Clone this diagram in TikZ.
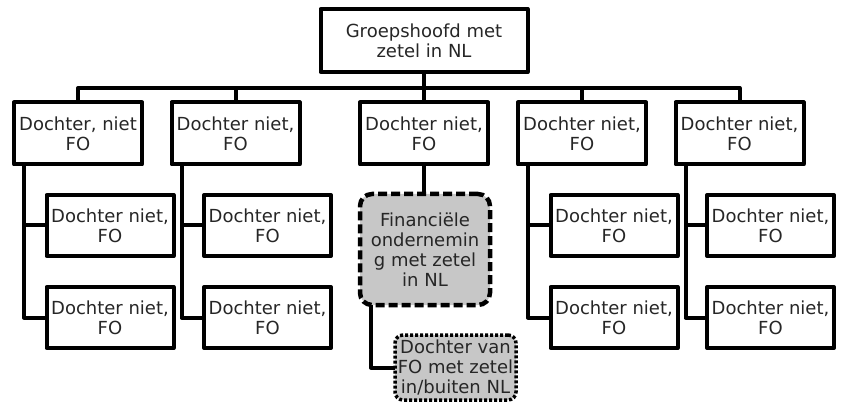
\documentclass[tikz,border=0pt]{standalone}
\usepackage{fontspec}
\setmainfont{DejaVu Sans}
\definecolor{txt}{rgb}{0.15,0.15,0.15}
\definecolor{fofill}{rgb}{0.78,0.78,0.78}
\tikzset{
  base/.style={draw=black, line width=4pt, text=txt, align=center, inner sep=0pt,
    font=\fontsize{18}{20}\selectfont, line join=round},
  parent/.style={base, minimum width=128pt, minimum height=62pt},
  child/.style={base, minimum width=127pt, minimum height=61pt},
  fo/.style={base, fill=fofill, rounded corners=12pt, dash pattern=on 9pt off 4pt,
    line width=4.5pt, minimum width=130pt, minimum height=111pt},
  fosub/.style={base, fill=fofill, rounded corners=8pt, dash pattern=on 3pt off 2pt,
    line width=3.5pt, minimum width=121pt, minimum height=65pt},
  conn/.style={line width=4pt, line join=round, line cap=rect}
}
\begin{document}
\begin{tikzpicture}[x=1pt,y=-1pt]
\useasboundingbox (0,0) rectangle (843,403);
\node[parent, minimum width=207pt, minimum height=63pt] (top) at (424,40.5) {Groepshoofd met\\zetel in NL};
\node[parent] (p1) at (78,133.5) {Dochter, niet\\FO};
\node[parent] (p2) at (235.5,133.5) {Dochter niet,\\FO};
\node[parent] (p3) at (424,133.5) {Dochter niet,\\FO};
\node[parent] (p4) at (582,133.5) {Dochter niet,\\FO};
\node[parent] (p5) at (739.5,133.5) {Dochter niet,\\FO};
\node[child] (c11) at (110,225.5) {Dochter niet,\\FO};
\node[child] (c12) at (110,317.5) {Dochter niet,\\FO};
\node[child] (c21) at (267.5,225.5) {Dochter niet,\\FO};
\node[child] (c22) at (267.5,317.5) {Dochter niet,\\FO};
\node[child] (c41) at (614,225.5) {Dochter niet,\\FO};
\node[child] (c42) at (614,317.5) {Dochter niet,\\FO};
\node[child] (c51) at (770.5,225.5) {Dochter niet,\\FO};
\node[child] (c52) at (770.5,317.5) {Dochter niet,\\FO};
\node[fo] (fo) at (425,249.5) {Financiële\\ondernemin\\g met zetel\\in NL};
\node[fosub] (fs) at (455.5,367.5) {Dochter van\\FO met zetel\\in/buiten NL};
\coordinate (bar) at (424,88);
% bar and drops
\draw[conn] (top.south) -- (p3.north);
\draw[conn] (p1.north) |- (bar) -| (p5.north);
\draw[conn] (p2.north) -- (p2.north |- bar);
\draw[conn] (p4.north) -- (p4.north |- bar);
% trunks
\foreach \p/\a/\b in {p1/c11/c12, p2/c21/c22, p4/c41/c42, p5/c51/c52}{
  \draw[conn] ([xshift=12pt]\p.south west) |- (\b.west);
  \draw[conn] ([xshift=12pt]\p.south west |- \a.west) -- (\a.west);
}
\draw[conn] (p3.south) -- (p3.south |- fo.north);
\draw[conn] ([xshift=13pt]fo.south west) |- (fs.west);
\end{tikzpicture}
\end{document}
